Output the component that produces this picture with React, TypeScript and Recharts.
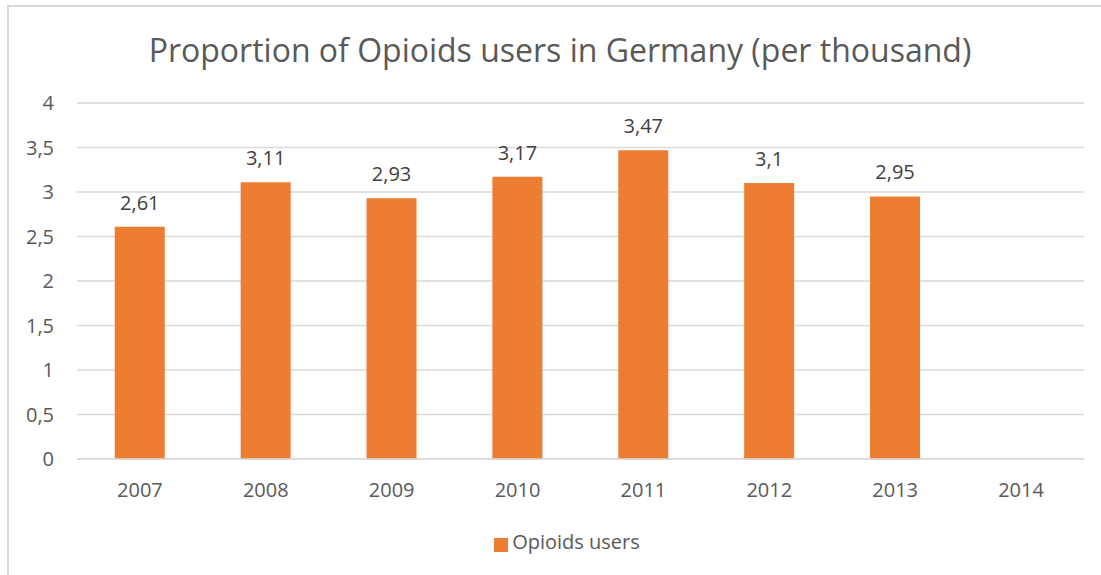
import { Bar, BarChart, CartesianGrid, LabelList, Legend, XAxis, YAxis } from "recharts";

const years = ["2007", "2008", "2009", "2010", "2011", "2012", "2013", "2014"];
const opioidUsers: (number | null)[] = [2.61, 3.11, 2.93, 3.17, 3.47, 3.1, 2.95, null];
const yTicks = [0, 0.5, 1, 1.5, 2, 2.5, 3, 3.5, 4];

const data = years.map((year, i) => ({ year, value: opioidUsers[i] }));

const FONT = "'Open Sans', 'Noto Sans', sans-serif";
const fmt = (v: unknown) => (v == null ? "" : String(v).replace(".", ","));

export default function App() {
  return (
    <div
      style={{
        position: "absolute",
        left: 0,
        top: 0,
        width: 1101,
        height: 575,
        background: "#fff",
        overflow: "hidden",
        fontFamily: FONT,
      }}
    >
      <div
        style={{
          position: "absolute",
          left: 7,
          top: 5,
          width: 1120,
          height: 620,
          border: "2px solid #d9d9d9",
        }}
      />
      <div
        style={{
          position: "absolute",
          top: 28,
          left: 0,
          width: 1120,
          textAlign: "center",
          fontSize: 32,
          color: "#595959",
        }}
      >
        Proportion of Opioids users in Germany (per thousand)
      </div>
      <div style={{ position: "absolute", left: 0, top: 0 }}>
        <BarChart
          width={1101}
          height={575}
          data={data}
          margin={{ top: 103, right: 17, left: 0, bottom: 33 }}
          barCategoryGap="30%"
        >
          <CartesianGrid vertical={false} stroke="#d9d9d9" strokeWidth={1.5} />
          <XAxis
            dataKey="year"
            axisLine={{ stroke: "#d9d9d9", strokeWidth: 1.5 }}
            tickLine={false}
            tickMargin={18}
            height={56}
            tick={{ fill: "#595959", fontSize: 20, fontFamily: FONT }}
          />
          <YAxis
            domain={[0, 4]}
            ticks={yTicks}
            width={77}
            axisLine={false}
            tickLine={false}
            tickSize={0}
            tickMargin={23}
            tickFormatter={fmt}
            tick={{ fill: "#595959", fontSize: 20, fontFamily: FONT }}
          />
          <Legend
            verticalAlign="bottom"
            iconType="square"
            iconSize={14}
            formatter={(v) => <span style={{ color: "#595959", fontSize: 20, fontFamily: FONT }}>{v}</span>}
            wrapperStyle={{ left: 30, bottom: 20 }}
          />
          <Bar dataKey="value" name="Opioids users" fill="#ed7d31" isAnimationActive={false}>
            <LabelList
              dataKey="value"
              position="top"
              offset={17}
              formatter={fmt}
              fill="#404040"
              fontSize={20}
              fontFamily={FONT}
            />
          </Bar>
        </BarChart>
      </div>
    </div>
  );
}
